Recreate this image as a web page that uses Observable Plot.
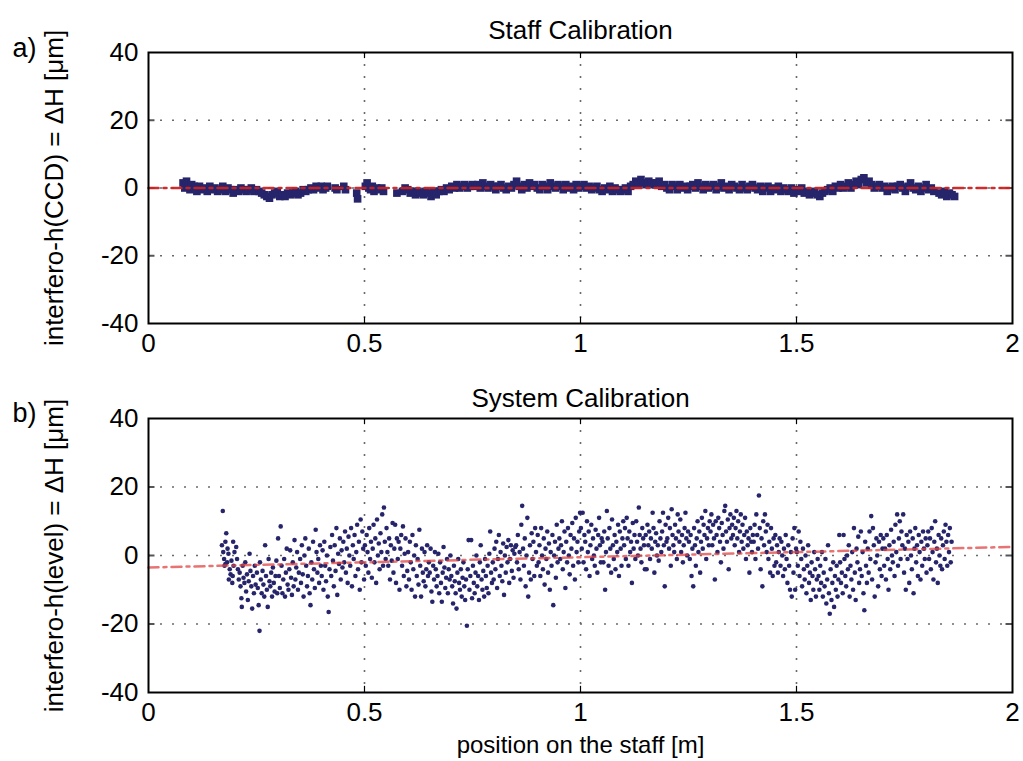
<!DOCTYPE html>
<html>
<head>
<meta charset="utf-8">
<script src="https://cdn.jsdelivr.net/npm/d3@7"></script>
<script src="https://cdn.jsdelivr.net/npm/@observablehq/plot@0.6"></script>
<style>
  html, body { margin: 0; padding: 0; background: #fff; }
  #chart { width: 1023px; height: 761px; }
  #chart svg { display: block; }
</style>
</head>
<body>
<div id="chart"></div>
<script>
// ---------- data ----------
const xTicks = [0, 0.5, 1, 1.5, 2];
const yTicks = [-40, -20, 0, 20, 40];
const gridXVals = [0.5, 1, 1.5];
const gridYVals = [-20, 0, 20];

const titleA = "Staff Calibration";
const titleB = "System Calibration";
const panelLabelA = "a)";
const panelLabelB = "b)";
const yLabelA = "interfero-h(CCD) = ΔH [μm]";
const yLabelB = "interfero-h(level) = ΔH [μm]";
const xLabel = "position on the staff [m]";

// reference lines (x, y)
const refAx = [0, 2], refAy = [0, 0];
const fitBx = [0, 2], fitBy = [-3.5, 2.5];

// panel a: staff calibration points [position m, ΔH µm]
const staffPts = [[0.080,1.5],[0.084,0],[0.088,2],[0.092,0.5],[0.096,-0.5],[0.100,1],[0.106,0.5],[0.112,-1],[0.118,0.5],[0.124,-0.5],[0.130,0],[0.136,-1],[0.142,0.5],[0.148,-0.5],[0.154,0],[0.160,-1],[0.166,-0.5],[0.172,0.5],[0.178,-1],[0.184,0],[0.190,-0.5],[0.196,-1.5],[0.202,-0.5],[0.208,-1],[0.214,0],[0.220,-0.5],[0.226,-1],[0.232,-0.5],[0.238,0],[0.244,-1],[0.250,-0.5],[0.256,-1],[0.262,-1.5],[0.268,-2],[0.274,-2.5],[0.280,-3],[0.286,-2],[0.292,-1.5],[0.298,-1],[0.304,-2.5],[0.310,-2],[0.316,-2.5],[0.322,-1.5],[0.328,-2],[0.334,-1.5],[0.340,-1],[0.346,-2],[0.352,-1.5],[0.358,-0.5],[0.364,-1],[0.370,-0.5],[0.376,0],[0.382,-0.5],[0.388,0.5],[0.394,0],[0.400,0.5],[0.404,-0.5],[0.410,0],[0.414,0.5],[0.432,0],[0.436,-0.5],[0.452,0.5],[0.456,-0.5],[0.482,-1.5],[0.484,-3.2],[0.502,0.5],[0.506,1.5],[0.510,0],[0.514,-0.5],[0.518,0.5],[0.522,-1],[0.528,0],[0.534,-0.5],[0.540,0],[0.544,-1],[0.575,-1.5],[0.588,-1],[0.594,0],[0.600,-0.5],[0.606,-1.5],[0.612,-1],[0.618,-2],[0.624,-1],[0.630,-1.5],[0.636,-2],[0.642,-1],[0.648,-1.5],[0.654,-2.5],[0.660,-1],[0.666,-2],[0.672,-1],[0.678,-0.5],[0.684,-1],[0.690,0],[0.696,-0.5],[0.702,0.5],[0.708,0],[0.714,1],[0.720,0],[0.726,0.5],[0.732,1],[0.738,0],[0.744,0.5],[0.750,1],[0.756,0.5],[0.762,1],[0.768,0],[0.774,1.5],[0.780,0.5],[0.786,0],[0.792,1],[0.798,0.5],[0.804,-0.5],[0.810,0.5],[0.816,1],[0.822,0],[0.828,-0.5],[0.834,0.5],[0.840,0],[0.846,1],[0.852,2],[0.858,0.5],[0.864,-0.5],[0.870,1],[0.876,0],[0.882,1.5],[0.888,0.5],[0.894,1],[0.900,0],[0.906,-0.5],[0.912,1],[0.918,0.5],[0.924,-0.5],[0.930,1.5],[0.936,0.5],[0.942,0],[0.948,1],[0.954,0.5],[0.960,-0.5],[0.966,1],[0.972,0],[0.978,0.5],[0.984,-0.5],[0.990,1],[0.996,0],[1.002,0.5],[1.008,1],[1.014,0],[1.020,0.5],[1.026,-0.5],[1.032,0],[1.038,0.5],[1.044,-0.5],[1.050,-1],[1.056,0],[1.062,-0.5],[1.068,0.5],[1.074,-1],[1.080,0],[1.086,-0.5],[1.092,-1],[1.098,-0.5],[1.104,0],[1.110,-1],[1.116,0.5],[1.122,1],[1.128,2],[1.134,1],[1.140,2.5],[1.146,1.5],[1.152,1],[1.158,2],[1.164,1.5],[1.170,1],[1.176,1.5],[1.182,2],[1.188,0.5],[1.194,1],[1.200,0],[1.206,-0.5],[1.212,1],[1.218,0.5],[1.224,-0.5],[1.230,1],[1.236,0],[1.242,0.5],[1.248,-0.5],[1.254,0.5],[1.260,1],[1.266,0],[1.272,1.5],[1.278,0.5],[1.284,-0.5],[1.290,1],[1.296,0],[1.302,0.5],[1.308,1],[1.314,-0.5],[1.320,0.5],[1.326,1.5],[1.332,0],[1.338,0.5],[1.344,-0.5],[1.350,1],[1.356,0.5],[1.362,0],[1.368,-0.5],[1.374,1],[1.380,0],[1.386,-0.5],[1.392,0.5],[1.398,1],[1.404,0],[1.410,-0.5],[1.416,0.5],[1.422,-1],[1.428,0],[1.434,0.5],[1.440,-1],[1.446,0],[1.452,-0.5],[1.458,0.5],[1.464,-1],[1.470,0],[1.476,-0.5],[1.482,-1],[1.488,0],[1.494,-1.5],[1.500,-0.5],[1.506,-1],[1.512,0],[1.518,-1.5],[1.524,-1],[1.530,-2],[1.536,-1.5],[1.542,-1],[1.548,-2],[1.554,-2.5],[1.560,-1.5],[1.566,-1],[1.572,-0.5],[1.578,0],[1.584,-1],[1.590,0.5],[1.596,0],[1.602,1],[1.608,0],[1.614,0.5],[1.620,1.5],[1.626,0],[1.632,1],[1.638,2],[1.644,1],[1.650,2.5],[1.656,3],[1.662,1.5],[1.668,2],[1.674,1],[1.680,0],[1.686,0.5],[1.692,1],[1.698,0],[1.704,0.5],[1.710,-1],[1.716,0],[1.722,0.5],[1.728,-0.5],[1.734,0.5],[1.740,1],[1.746,0],[1.752,-1],[1.758,0.5],[1.764,1.5],[1.770,0],[1.776,-0.5],[1.782,0.5],[1.788,-1],[1.794,0],[1.800,1],[1.806,-0.5],[1.812,0],[1.818,-1],[1.830,-1.5],[1.836,-2],[1.842,-1],[1.848,-2.5],[1.854,-1.5],[1.860,-2],[1.866,-2.5]];

// panel b: system calibration points [position m, ΔH µm]
const systemPts = [
[0.172,13],[0.170,3],[0.173,1],[0.175,-1],[0.178,4],[0.180,6.5],[0.176,-3],[0.182,-2],[0.185,0.5],[0.188,-4],[0.190,-5.5],[0.183,2],[0.192,-1.5],[0.195,-6],[0.197,-3],[0.199,1],[0.186,-7],[0.194,-8],[0.178,-2.5],[0.196,4],
[0.203,2.5],[0.205,-1],[0.207,-4],[0.209,-7],[0.211,-5],[0.213,-9],[0.215,-12.5],[0.216,-15],[0.218,-3],[0.220,-6.5],[0.222,-8],[0.224,-2],[0.226,-10.5],[0.228,-5.5],[0.230,-13],[0.232,-7.5],[0.234,0.5],[0.236,-4.5],[0.238,-9],[0.240,-15.5],[0.242,-6],[0.244,-11],[0.246,-3],[0.248,-8.5],
[0.251,-5],[0.253,-9.5],[0.255,-14.5],[0.257,-22],[0.258,-2],[0.260,-7],[0.262,-11],[0.264,-4.5],[0.266,-8.5],[0.268,-12],[0.270,3],[0.272,-6],[0.274,-10],[0.276,-15],[0.278,-1],[0.280,-7.5],[0.282,-9],[0.284,-5],[0.286,-12],[0.288,-3.5],[0.290,-8],[0.292,-10.5],[0.294,-6],[0.296,-1.5],[0.298,-11],
[0.300,5],[0.302,-6],[0.304,-9.5],[0.306,8.5],[0.308,-3],[0.310,-11],[0.312,-7],[0.314,-1],[0.316,-12],[0.318,-5],[0.320,2],[0.322,-8.5],[0.324,-10],[0.326,-4],[0.328,1.5],[0.330,-6.5],[0.332,-11.5],[0.334,-2],[0.336,-9],[0.338,4.5],[0.340,-7],[0.342,-3.5],[0.344,1],[0.346,-10],[0.348,-5],
[0.351,-1],[0.353,-8],[0.355,3],[0.357,-5.5],[0.359,-12],[0.361,0],[0.363,5],[0.365,-3],[0.367,-9],[0.369,-6],[0.371,2],[0.373,-11],[0.375,-14.5],[0.377,-2],[0.379,-7],[0.381,4],[0.383,-4],[0.385,-9.5],[0.387,7.5],[0.389,1],[0.391,-5],[0.393,-1],[0.395,-8],[0.397,3],[0.399,-3],
[0.401,-6],[0.403,1.5],[0.405,-10],[0.407,4],[0.409,-3],[0.411,-7.5],[0.413,0],[0.415,-12],[0.417,-16.5],[0.419,-4],[0.421,2.5],[0.423,-6],[0.425,6],[0.427,-1.5],[0.429,-9],[0.431,3],[0.433,-4.5],[0.435,8],[0.437,-11.5],[0.439,0.5],[0.441,-2.5],[0.443,5],[0.445,-7],[0.447,1.5],[0.449,-3.5],
[0.451,4],[0.453,-2],[0.455,7],[0.457,-5],[0.459,2],[0.461,-8],[0.463,5.5],[0.465,0],[0.467,-3],[0.469,8],[0.471,-9],[0.473,3],[0.475,-1],[0.477,6],[0.479,-6],[0.481,1],[0.483,9],[0.485,-4],[0.487,4],[0.489,-10],[0.491,10.5],[0.493,-2],[0.495,7],[0.497,2],[0.499,-7],
[0.501,3],[0.503,-3],[0.505,6],[0.507,1],[0.509,-5],[0.511,8],[0.513,-1],[0.515,4],[0.517,-6.5],[0.519,2],[0.521,9],[0.523,-2],[0.525,5],[0.527,-8],[0.529,10.5],[0.531,0],[0.533,3.5],[0.535,-4],[0.537,6.5],[0.539,1],[0.541,12],[0.543,-3],[0.545,14],[0.547,4],[0.549,-1],
[0.551,8],[0.553,1],[0.555,-3],[0.557,5],[0.559,-7],[0.561,3],[0.563,-1.5],[0.565,9.5],[0.567,-5],[0.569,2],[0.571,9],[0.573,-8],[0.575,5],[0.577,-1],[0.579,4],[0.581,-10],[0.583,2],[0.585,6],[0.587,-3],[0.589,8.5],[0.591,-6],[0.593,0.5],[0.595,5],[0.597,-9],[0.599,-4.5],
[0.601,1],[0.603,-7],[0.605,4],[0.607,-2],[0.609,-10],[0.611,6],[0.613,-4],[0.615,0],[0.617,-12],[0.619,3],[0.621,-6],[0.623,-1],[0.625,-8.5],[0.627,7.5],[0.629,-3],[0.631,-12],[0.633,2],[0.635,-5],[0.637,-7.5],[0.639,1],[0.641,-9],[0.643,-4],[0.645,3],[0.647,-6],[0.649,-2],
[0.651,-5],[0.653,2],[0.655,-10.5],[0.657,-13.5],[0.659,-3],[0.661,-7],[0.663,1],[0.665,-4],[0.667,-9],[0.669,-6],[0.671,0.5],[0.673,-11],[0.675,-2],[0.677,-8],[0.679,-13.5],[0.681,-5],[0.683,2.5],[0.685,-3.5],[0.687,-9.5],[0.689,-6.5],[0.691,-1],[0.693,-11],[0.695,-4],[0.697,-7],[0.699,0],
[0.701,-6],[0.703,-9],[0.705,-14],[0.707,-3],[0.709,-7.5],[0.711,-11],[0.713,-15.5],[0.715,-5],[0.717,-1],[0.719,-8],[0.721,-10],[0.723,-4],[0.725,-12],[0.727,-6.5],[0.729,-2],[0.731,-9],[0.733,-13],[0.735,-7],[0.737,-20.5],[0.739,-4],[0.741,4.5],[0.743,-10],[0.745,-6],[0.747,4.5],[0.749,-12.5],
[0.751,-3],[0.753,-8],[0.755,-11],[0.757,-5],[0.759,0],[0.761,-9],[0.763,-6],[0.765,-13],[0.767,-2],[0.769,3],[0.771,-7],[0.773,-10],[0.775,-4.5],[0.777,-12],[0.779,-1],[0.781,-6],[0.783,-9.5],[0.785,-3],[0.787,-11],[0.789,0.5],[0.791,7],[0.793,-5],[0.795,-8],[0.797,-2],[0.799,-7],
[0.801,2],[0.803,-4],[0.805,4],[0.807,-9.5],[0.809,-1],[0.811,6],[0.813,-6],[0.815,1],[0.817,-3],[0.819,-7.5],[0.821,3.5],[0.823,-11.5],[0.825,0],[0.827,-5],[0.829,2.5],[0.831,-2],[0.833,4.5],[0.835,-8],[0.837,-1],[0.839,3],[0.841,-4.5],[0.843,1.5],[0.845,-6.5],[0.847,0.5],[0.849,2.5],
[0.851,3],[0.853,-2],[0.855,6],[0.857,-4],[0.859,1],[0.861,-7],[0.863,9],[0.865,14.5],[0.867,2],[0.869,-3],[0.871,5],[0.873,-9],[0.875,0],[0.877,11],[0.879,-12],[0.881,-5],[0.883,3],[0.885,-7],[0.887,6.5],[0.889,-1],[0.891,4],[0.893,-6],[0.895,8],[0.897,1],[0.899,-3],
[0.901,6],[0.903,-2],[0.905,3],[0.907,-6],[0.909,8],[0.911,0],[0.913,-4],[0.915,5],[0.917,-8.5],[0.919,2],[0.921,-1],[0.923,7],[0.925,-5],[0.927,3.5],[0.929,-10],[0.931,1],[0.933,-3],[0.935,6],[0.937,-14.5],[0.939,0],[0.941,4],[0.943,-6.5],[0.945,9],[0.947,-2],[0.949,2],
[0.951,5],[0.953,-1],[0.955,3],[0.957,10],[0.959,-4],[0.961,1],[0.963,7],[0.965,-9.5],[0.967,4],[0.969,-2],[0.971,8],[0.973,0],[0.975,-5.5],[0.977,6],[0.979,2],[0.981,9.5],[0.983,-3],[0.985,5],[0.987,-7],[0.989,11],[0.991,1],[0.993,4],[0.995,-2],[0.997,7],[0.999,12.5],
[1.001,8],[1.003,2],[1.005,12.5],[1.007,-2],[1.009,6],[1.011,4],[1.013,-4],[1.015,10],[1.017,1],[1.019,7],[1.021,-6],[1.023,3],[1.025,9],[1.027,-1],[1.029,5],[1.031,0],[1.033,-3],[1.035,7.5],[1.037,2],[1.039,-5],[1.041,6],[1.043,11],[1.045,3],[1.047,-2],[1.049,5],
[1.051,4],[1.053,-2],[1.055,7],[1.057,-10],[1.059,1],[1.061,13],[1.063,5],[1.065,-3],[1.067,8],[1.069,2],[1.071,-5],[1.073,10.5],[1.075,3],[1.077,-1],[1.079,6],[1.081,-4],[1.083,4],[1.085,1],[1.087,9],[1.089,-6],[1.091,7],[1.093,2],[1.095,-3],[1.097,5],[1.099,10],
[1.101,3],[1.103,8],[1.105,-1],[1.107,11],[1.109,5],[1.111,-3],[1.113,7],[1.115,1],[1.117,4],[1.119,-8],[1.121,9.5],[1.123,2],[1.125,6],[1.127,-1],[1.129,10],[1.131,4],[1.133,0],[1.135,14],[1.137,6],[1.139,2],[1.141,-2],[1.143,8],[1.145,5],[1.147,3],[1.149,-4],
[1.151,6],[1.153,-4],[1.155,9],[1.157,3],[1.159,7],[1.161,-1],[1.163,5],[1.165,2],[1.167,12.5],[1.169,8],[1.171,-5],[1.173,4],[1.175,6.5],[1.177,0],[1.179,3],[1.181,-1.5],[1.183,10],[1.185,5],[1.187,1],[1.189,7],[1.191,12.5],[1.193,3],[1.195,-9],[1.197,9],[1.199,4],
[1.201,5],[1.203,11],[1.205,2],[1.207,8],[1.209,-3],[1.211,13.5],[1.213,6],[1.215,3],[1.217,1],[1.219,9],[1.221,5],[1.223,-1],[1.225,12],[1.227,7],[1.229,4],[1.231,10.5],[1.233,1],[1.235,6],[1.237,-2],[1.239,3],[1.241,8],[1.243,12.5],[1.245,5],[1.247,0],[1.249,7],
[1.251,4],[1.253,-1],[1.255,6],[1.257,-6],[1.259,2],[1.261,-9],[1.263,8],[1.265,3],[1.267,-3],[1.269,5],[1.271,10],[1.273,1],[1.275,7],[1.277,-5],[1.279,4],[1.281,11],[1.283,2],[1.285,9],[1.287,6],[1.289,13],[1.291,-1],[1.293,5],[1.295,8],[1.297,3],[1.299,10],
[1.301,7],[1.303,12],[1.305,3],[1.307,9],[1.309,5],[1.311,-7],[1.313,10],[1.315,6],[1.317,1],[1.319,11],[1.321,8],[1.323,4],[1.325,-2],[1.327,9.5],[1.329,6],[1.331,2],[1.333,13],[1.335,14.5],[1.337,7],[1.339,4],[1.341,10.5],[1.343,-4],[1.345,8],[1.347,12],[1.349,5],
[1.351,9],[1.353,6],[1.355,11],[1.357,3],[1.359,8],[1.361,13],[1.363,5],[1.365,10],[1.367,1],[1.369,7],[1.371,12],[1.373,4],[1.375,9],[1.377,2],[1.379,6],[1.381,11],[1.383,-1],[1.385,7],[1.387,3],[1.389,5],[1.391,-5],[1.393,8],[1.395,4],[1.397,1],[1.399,6],
[1.401,4],[1.403,9],[1.405,-1],[1.407,12],[1.409,6],[1.411,2],[1.413,17.5],[1.415,8],[1.417,-4],[1.419,5],[1.421,-9],[1.423,10],[1.425,3],[1.427,12],[1.429,7],[1.431,1],[1.433,9],[1.435,-1],[1.437,4],[1.439,-5],[1.441,8],[1.443,2],[1.445,-6],[1.447,5],[1.449,-3],
[1.451,6],[1.453,-2],[1.455,3],[1.457,-5],[1.459,1],[1.461,5],[1.463,-3],[1.465,4],[1.467,0],[1.469,-6],[1.471,2],[1.473,-4],[1.475,6],[1.477,-1],[1.479,-8],[1.481,3],[1.483,-3],[1.485,-10],[1.487,1],[1.489,-12],[1.491,5],[1.493,-5],[1.495,8],[1.497,-10],[1.499,2],
[1.501,1],[1.503,-3],[1.505,7],[1.507,-6],[1.509,4],[1.511,-1],[1.513,-9],[1.515,2],[1.517,-4],[1.519,-7],[1.521,0],[1.523,-11],[1.525,-3],[1.527,3],[1.529,-8],[1.531,-5],[1.533,-13],[1.535,-2],[1.537,-6],[1.539,-10],[1.541,1],[1.543,-4],[1.545,-12],[1.547,-7],[1.549,-1],
[1.551,-6],[1.553,-10],[1.555,-3],[1.557,-8],[1.559,1],[1.561,-12],[1.563,-5],[1.565,-9],[1.567,-1],[1.569,-14],[1.571,-7],[1.573,3],[1.575,-11],[1.577,-17],[1.579,-4],[1.581,-13],[1.583,-8],[1.585,-2],[1.587,-15],[1.589,-6],[1.591,-10],[1.593,-3],[1.595,-12],[1.597,-7],[1.599,6],
[1.601,-2],[1.603,-8],[1.605,-5],[1.607,-11],[1.609,6],[1.611,-1],[1.613,-6],[1.615,-9],[1.617,0],[1.619,-4],[1.621,3],[1.623,-12],[1.625,-3],[1.627,-7],[1.629,1],[1.631,-10],[1.633,8],[1.635,-5],[1.637,-13],[1.639,2],[1.641,-2],[1.643,5.5],[1.645,-8],[1.647,-4],[1.649,7],
[1.651,-6],[1.653,1],[1.655,-11],[1.657,-16],[1.659,4],[1.661,-3],[1.663,-8],[1.665,2],[1.667,-5],[1.669,7],[1.671,-1],[1.673,11.5],[1.675,-7],[1.677,8],[1.679,3],[1.681,-12],[1.683,-2],[1.685,5],[1.687,0],[1.689,-9],[1.691,4],[1.693,-4],[1.695,6],[1.697,-6],[1.699,2],
[1.701,5],[1.703,-3],[1.705,2],[1.707,-7],[1.709,6],[1.711,-1],[1.713,-10],[1.715,3],[1.717,-4],[1.719,7.5],[1.721,0],[1.723,-2],[1.725,4],[1.727,-6],[1.729,9],[1.731,1],[1.733,12],[1.735,-3],[1.737,5],[1.739,10],[1.741,-1],[1.743,7],[1.745,3],[1.747,12],[1.749,-5],
[1.751,2],[1.753,-10],[1.755,6],[1.757,-1],[1.759,4],[1.761,-8],[1.763,7],[1.765,0],[1.767,-4],[1.769,5],[1.771,-11],[1.773,2],[1.775,8],[1.777,-2],[1.779,3],[1.781,-6],[1.783,6],[1.785,1],[1.787,-7],[1.789,4],[1.791,-3],[1.793,7],[1.795,2],[1.797,-1],[1.799,5],
[1.801,-5],[1.803,3],[1.805,7],[1.807,-1],[1.809,5],[1.811,-4],[1.813,8],[1.815,1],[1.817,-7],[1.819,4],[1.821,10],[1.823,-2],[1.825,2],[1.827,-8],[1.829,6],[1.831,0],[1.833,-3],[1.835,5],[1.837,-4],[1.839,3],[1.841,7],[1.843,-1],[1.845,9],[1.847,4],[1.849,-3],[1.851,6],[1.853,1],[1.855,8],[1.857,-2],[1.859,4]
];

// ---------- drawing ----------
const FONT = "'Liberation Sans', Arial, Helvetica, sans-serif";
const INK = "#26246a";
const FS = 26;
const fmt = d => String(d);

function panel({pts, refX, refY, refColor, refOpacity, title, tag, ylab, height, mt, mb, dotSymbol, dotR, xlab, titleDy, tagDy}) {
  const ref = refX.map((x, i) => ({x, y: refY[i]}));
  const grid = {stroke: "#6a6a6a", strokeWidth: 1.6, strokeDasharray: "2,10"};
  const marks = [
    Plot.ruleX(gridXVals, {...grid}),
    Plot.ruleY(gridYVals, {...grid}),
    Plot.axisX({ticks: xTicks, tickFormat: fmt, tickSize: 0, tickPadding: 10, fontSize: FS, label: null}),
    Plot.axisY({ticks: yTicks, tickFormat: fmt, tickSize: 0, tickPadding: 10, fontSize: FS,
                label: ylab, labelAnchor: "center", labelArrow: "none", labelOffset: 104}),
    Plot.ruleX(gridXVals, {y1: -40, y2: -38.2, stroke: "#000", strokeWidth: 1.2}),
    Plot.ruleX(gridXVals, {y1: 40, y2: 38.2, stroke: "#000", strokeWidth: 1.2}),
    Plot.ruleY(gridYVals, {x1: 1.985, x2: 2, stroke: "#555", strokeWidth: 2}),
    Plot.ruleY(gridYVals, {x1: 0, x2: 0.015, stroke: "#555", strokeWidth: 2}),
    Plot.dot(pts, {x: d => d[0], y: d => d[1], symbol: dotSymbol, r: dotR, fill: INK, stroke: "none"}),
    Plot.line(ref, {x: "x", y: "y", stroke: refColor, strokeOpacity: refOpacity, strokeWidth: 2.5, strokeDasharray: "10,5,3,5"}),
    Plot.frame({stroke: "#000", strokeWidth: 2}),
    Plot.text([title], {frameAnchor: "top", dy: titleDy, fontSize: FS, fill: "#000", text: d => d}),
    Plot.text([tag], {frameAnchor: "top-left", dx: -136, dy: tagDy, textAnchor: "start", fontSize: 27, fill: "#000", text: d => d})
  ];
  if (xlab) marks.push(Plot.text([xlab], {frameAnchor: "bottom", dy: 60, fontSize: 24, fill: "#000", text: d => d}));
  return Plot.plot({
    width: 1023,
    height,
    marginLeft: 148,
    marginRight: 11,
    marginTop: mt,
    marginBottom: mb,
    style: {fontFamily: FONT, fontSize: FS + "px", color: "#000", background: "#fff", overflow: "visible"},
    x: {domain: [0, 2], ticks: xTicks, tickFormat: fmt},
    y: {domain: [-40, 40], ticks: yTicks, tickFormat: fmt},
    marks
  });
}

const el = document.getElementById("chart");
el.appendChild(panel({
  pts: staffPts, refX: refAx, refY: refAy, refColor: "#cc2222", refOpacity: 0.95,
  title: titleA, tag: panelLabelA, ylab: yLabelA, height: 375, mt: 52, mb: 52,
  dotSymbol: "square", dotR: 4.3, xlab: null, titleDy: -32, tagDy: -15
}));
el.appendChild(panel({
  pts: systemPts, refX: fitBx, refY: fitBy, refColor: "#e04444", refOpacity: 0.75,
  title: titleB, tag: panelLabelB, ylab: yLabelB, height: 386, mt: 43, mb: 69,
  dotSymbol: "circle", dotR: 2.3, xlab: xLabel, titleDy: -30, tagDy: -16
}));
</script>
</body>
</html>
